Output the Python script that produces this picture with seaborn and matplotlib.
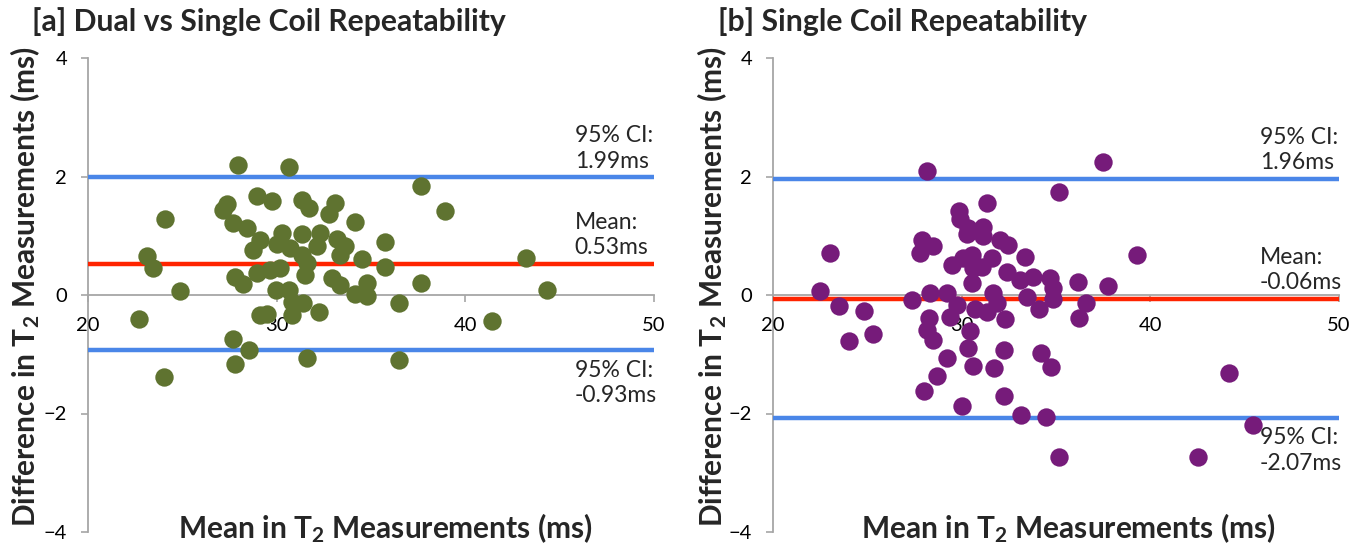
import matplotlib.pyplot as plt
import pandas as pd
import seaborn as sns

# Bland-Altman data (x = mean T2, y = difference)
dual_mean = [27.97, 30.63, 28.95, 29.75, 31.34, 31.74, 33.10, 32.75, 27.39, 27.18,
             24.08, 34.16, 27.71, 28.42, 29.12, 28.77, 30.28, 31.34, 32.31, 32.13,
             30.01, 30.72, 33.19, 33.63, 35.76, 23.11, 23.46, 31.34, 33.37, 34.52,
             35.76, 30.19, 31.60, 28.95, 29.66, 31.51, 27.80, 28.24, 32.93, 33.37,
             34.79, 24.88, 29.97, 30.63, 34.16, 34.79, 30.81, 31.42, 36.46, 29.12,
             29.48, 30.81, 32.22, 22.72, 27.68, 28.56, 31.63, 27.80, 24.05, 36.51,
             37.67, 38.94, 43.24, 37.65, 44.33, 41.42]
dual_diff = [2.19, 2.16, 1.67, 1.59, 1.61, 1.46, 1.56, 1.37, 1.54, 1.43,
             1.29, 1.24, 1.22, 1.13, 0.93, 0.76, 1.05, 1.03, 1.05, 0.82,
             0.86, 0.79, 0.94, 0.83, 0.89, 0.66, 0.46, 0.68, 0.68, 0.61,
             0.48, 0.45, 0.54, 0.37, 0.42, 0.34, 0.31, 0.19, 0.28, 0.17,
             0.21, 0.07, 0.08, 0.08, 0.02, -0.02, -0.11, -0.13, -0.14, -0.34,
             -0.32, -0.34, -0.28, -0.41, -0.75, -0.92, -1.06, -1.16, -1.38, -1.09,
             1.84, 1.41, 0.62, 0.21, 0.08, -0.44]

single_mean = [28.15, 31.32, 29.86, 29.91, 30.35, 30.27, 31.11, 31.14, 32.03, 32.47,
               27.88, 28.49, 27.79, 23.02, 33.35, 29.47, 30.08, 30.53, 31.06, 31.59,
               30.61, 32.38, 33.09, 33.79, 34.68, 34.85, 30.53, 22.49, 27.35, 28.32,
               29.21, 31.67, 34.85, 33.44, 23.50, 24.82, 29.74, 30.70, 31.32, 31.85,
               29.38, 28.28, 32.29, 34.11, 25.28, 24.04, 28.15, 28.46, 30.44, 30.35,
               32.26, 34.20, 29.21, 30.58, 31.71, 34.73, 28.68, 28.02, 32.26, 30.00,
               33.13, 34.45, 35.16, 35.16, 37.50, 39.31, 36.15, 37.74, 36.59, 36.23,
               44.17, 45.45, 42.54]
single_diff = [2.10, 1.55, 1.41, 1.28, 1.13, 1.03, 1.15, 1.00, 0.93, 0.85,
               0.93, 0.82, 0.71, 0.71, 0.64, 0.51, 0.62, 0.68, 0.48, 0.62,
               0.45, 0.38, 0.25, 0.31, 0.28, 0.11, 0.20, 0.06, -0.08, 0.03,
               0.03, 0.03, -0.06, -0.03, -0.18, -0.27, -0.17, -0.23, -0.28, -0.14,
               -0.37, -0.39, -0.41, -0.24, -0.65, -0.78, -0.59, -0.76, -0.61, -0.90,
               -0.92, -0.98, -1.06, -1.19, -1.23, -1.22, -1.36, -1.62, -1.71, -1.88,
               -2.03, -2.06, -2.74, 1.73, 2.25, 0.68, 0.22, 0.16, -0.13, -0.39,
               -1.31, -2.20, -2.73]

# upper CI, mean, lower CI
dual_lines = [1.99, 0.53, -0.93]
single_lines = [1.96, -0.06, -2.07]
line_names = ["95% CI:", "Mean:", "95% CI:"]

titles = ["[a] Dual vs Single Coil Repeatability", "[b] Single Coil Repeatability"]
x_ticks = [20, 30, 40, 50]
y_ticks = [-4, -2, 0, 2, 4]

sns.set_style("white")
plt.rcParams["font.family"] = ["Lato", "DejaVu Sans"]
plt.rcParams["mathtext.fontset"] = "custom"
plt.rcParams["mathtext.bf"] = "Lato:bold"
plt.rcParams["mathtext.rm"] = "Lato"
plt.rcParams["mathtext.default"] = "bf"

GREY = "#a6a6a6"
BLUE = "#4a86e8"
RED = "#ff2400"

fig = plt.figure(figsize=(13.68, 5.51), dpi=100)

panels = [
    (dual_mean, dual_diff, dual_lines, "#5f7330", 88, 32),
    (single_mean, single_diff, single_lines, "#761b7a", 773, 718),
]

for i, (xs, ys, lines, colour, left_px, title_px) in enumerate(panels):
    ax = fig.add_axes([left_px / 1368, 1 - 532 / 551, 566 / 1368, 474 / 551])
    df = pd.DataFrame({"mean": xs, "diff": ys})

    for val, c in zip(lines, [BLUE, RED, BLUE]):
        ax.axhline(val, color=c, lw=3.2, zorder=1)

    sns.scatterplot(data=df, x="mean", y="diff", ax=ax, color=colour,
                    s=175, linewidth=0, alpha=1, zorder=3)

    ax.set_xlim(20, 50)
    ax.set_ylim(-4, 4)
    ax.set_xticks(x_ticks)
    ax.set_yticks(y_ticks)
    ax.set_xlabel("")
    ax.set_ylabel("")

    for s in ["top", "right"]:
        ax.spines[s].set_visible(False)
    ax.spines["bottom"].set_position(("data", 0))
    for s in ["left", "bottom"]:
        ax.spines[s].set_color(GREY)
        ax.spines[s].set_linewidth(1.3)
        ax.spines[s].set_zorder(0.5)
    ax.tick_params(axis="both", direction="out", length=5, width=1.2,
                   color=GREY, labelsize=14.5, labelcolor="black")
    ax.tick_params(axis="x", pad=11, bottom=True)
    ax.tick_params(axis="y", pad=10, left=True)

    # CI / mean annotations at the right end of each line
    for j, (val, name) in enumerate(zip(lines, line_names)):
        below = j == 2
        ax.annotate(f"{name}\n{val:.2f}ms", xy=(45.8, val),
                    xytext=(0, -7 if below else 4), textcoords="offset points",
                    ha="left", va="top" if below else "bottom",
                    fontsize=16.5, linespacing=1.25)

    fig.text(title_px / 1368, 1 - 22 / 551, titles[i], fontsize=21.7,
             fontweight="bold", ha="left", va="center")
    ylab_px = 25 if i == 0 else 712
    fig.text(ylab_px / 1368, 1 - 287 / 551, "Difference in T$_2$ Measurements (ms)",
             rotation=90, fontsize=21.5, fontweight="bold", ha="center", va="center")
    xlab_px = 385 if i == 0 else 1068
    fig.text(xlab_px / 1368, 1 - 528 / 551, "Mean in T$_2$ Measurements (ms)",
             fontsize=21.5, fontweight="bold", ha="center", va="center")

fig.savefig("out.png", dpi=100)
